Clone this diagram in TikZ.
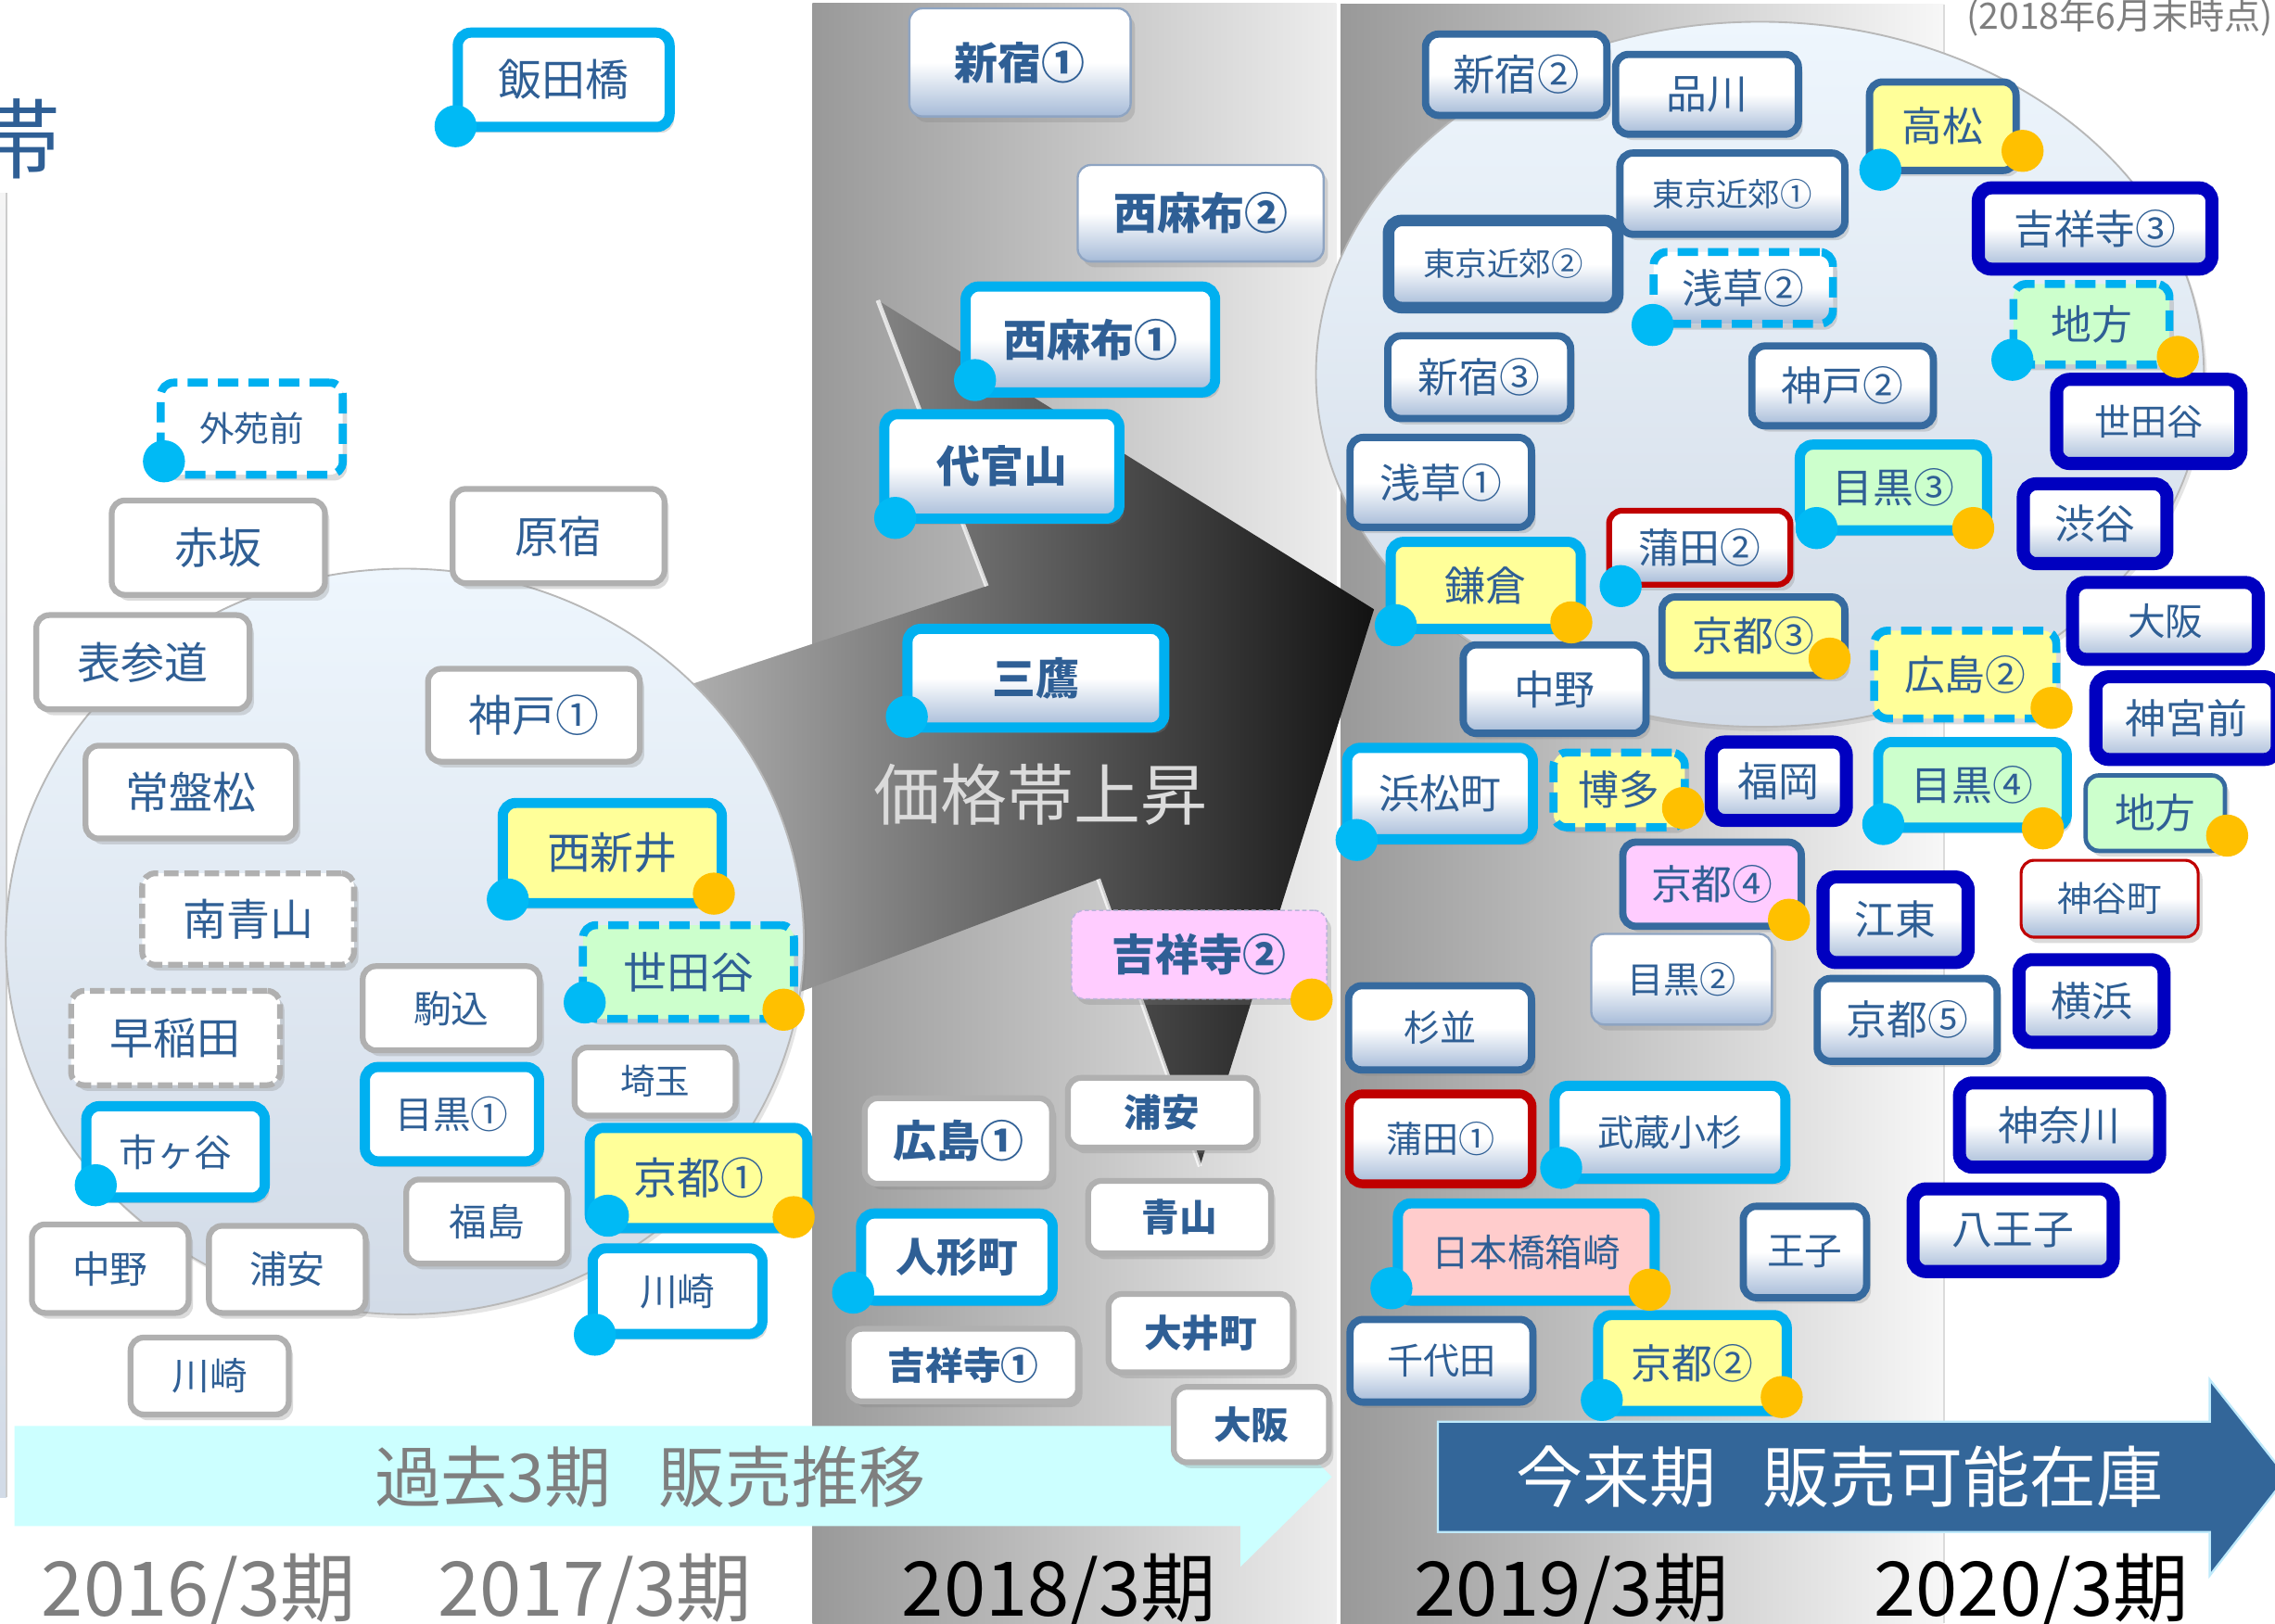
\documentclass[tikz,border=0pt]{standalone}
\usepackage{fontspec}
\setmainfont{Noto Sans CJK JP}
\usetikzlibrary{shadows}
\definecolor{txt}{HTML}{2F5F95}
\definecolor{cyanB}{HTML}{00B0F0}
\definecolor{cyanD}{HTML}{00BAF5}
\definecolor{orgD}{HTML}{FFC000}
\definecolor{grayB}{HTML}{B0B0B0}
\definecolor{steelB}{HTML}{366A9F}
\definecolor{dblueB}{HTML}{0000C0}
\definecolor{redB}{HTML}{C00000}
\definecolor{thinB}{HTML}{8EA4C2}
\definecolor{yelF}{HTML}{FFFF99}
\definecolor{grnF}{HTML}{CCFFCC}
\definecolor{pnkF}{HTML}{FFCCFF}
\definecolor{salF}{HTML}{FFCCCC}
\definecolor{bevB}{HTML}{A6BBD8}
\definecolor{bandC}{HTML}{CCFFFF}
\definecolor{arrB}{HTML}{336699}
\definecolor{yrG}{HTML}{7F7F7F}
\definecolor{cirT}{HTML}{EEF6FD}
\definecolor{cirB}{HTML}{D2DBE7}
\newcommand\fsz[1]{\fontsize{#1pt}{#1pt}\selectfont}
\newcommand\stn[8]{\node[box,#2,font=\fsz{#7},minimum width=#5pt-#3pt-\pgflinewidth,minimum height=#6pt-#4pt-\pgflinewidth] (#1) at ({(#3+#5)/2},{(#4+#6)/2}) {#8};}
\newcommand\cdt[2]{\fill[cyanD] (#1,#2) circle (14.5pt);}
\newcommand\odt[2]{\fill[orgD] (#1,#2) circle (14.5pt);}
\begin{document}
\begin{tikzpicture}[x=1pt,y=-1pt,
  box/.style={rounded corners=9pt, inner sep=0pt, text=txt, align=center,
    drop shadow={opacity=0.28, shadow xshift=3pt, shadow yshift=-4pt}},
  yel/.style={fill=yelF}, grn/.style={fill=grnF}, pnk/.style={fill=pnkF}, sal/.style={fill=salF},
  bev/.style={top color=white, bottom color=bevB, middle color=white},
  grayb/.style={draw=grayB, line width=4pt, fill=white},
  graydash/.style={draw=grayB, line width=4pt, dash pattern=on 10pt off 4pt, fill=white},
  cyanb/.style={draw=cyanB, line width=7pt, fill=white},
  cyandash/.style={draw=cyanB, line width=5.5pt, dash pattern=on 14pt off 7pt, fill=white},
  thinb/.style={draw=thinB, line width=1.5pt, fill=white},
  pinkthin/.style={draw=thinB!60!pnkF, line width=1pt, dash pattern=on 3pt off 2pt, fill=pnkF},
  steel/.style={draw=steelB, line width=5pt, fill=white},
  steelthick/.style={draw=steelB, line width=8pt, fill=white},
  steelthin/.style={draw=steelB, line width=3pt, fill=white},
  dblue/.style={draw=dblueB, line width=9pt, fill=white},
  red/.style={draw=redB, line width=4pt, fill=white},
  redthick/.style={draw=redB, line width=6pt, fill=white},
  redthin/.style={draw=redB, line width=2pt, fill=white}]
\useasboundingbox (0,0) rectangle (1568,1119);
\clip (0,0) rectangle (1568,1119);
\fill[white] (0,0) rectangle (1568,1119);
% columns
\shade[left color=black!40, right color=black!7] (560,2) rectangle (921,1119);
\shade[left color=black!40, right color=black!3] (924,3) rectangle (1340,1119);
\draw[black!14, line width=1pt] (1340,3) -- (1340,1119);
% left panel edge
\shade[top color=black!4, bottom color=cirB] (0,133) rectangle (4.5,1032);
\draw[black!20, line width=0.8pt] (4.5,133) -- (4.5,1032);
\node[font=\fsz{60}, text=txt] (obi) at (12,96) {帯};
% big 3D arrow
\shade[left color=black!22, right color=black!93] (400,497) -- (680,404) -- (605,207) -- (947,420) -- (827,804) -- (757,606) -- (400,741) -- cycle;
\draw[white, opacity=0.75, line width=3pt] (605,207) -- (680,404);
\draw[white, opacity=0.75, line width=3pt] (827,804) -- (757,606);
\node[font=\fsz{46}, text=black!14] (rise) at (717,548) {価格帯上昇};
% circles
\path[top color=cirT, bottom color=cirB, draw=black!28, line width=1.2pt,
  drop shadow={opacity=0.2, shadow xshift=2pt, shadow yshift=-3pt}] (279,649) ellipse (275pt and 257pt);
\path[top color=cirT, bottom color=cirB, draw=black!28, line width=1.2pt,
  drop shadow={opacity=0.2, shadow xshift=2pt, shadow yshift=-3pt}] (1213,258) ellipse (306pt and 243pt);
% bottom bands
\fill[bandC] (10,983) -- (855,983) -- (855,955) -- (918,1018) -- (855,1080) -- (855,1052) -- (10,1052) -- cycle;
\node[font=\fsz{46}, text=yrG] (past) at (448,1018) {過去3期\hspace{0.7em}販売推移};
\filldraw[fill=arrB, draw=cyan!25, line width=1.5pt] (991,980) -- (1523,980) -- (1523,951) -- (1576,1018) -- (1523,1086) -- (1523,1056) -- (991,1056) -- cycle;
\node[font=\fsz{46}, text=white] (now) at (1268,1018) {今来期\hspace{0.7em}販売可能在庫};
% years
\node[font=\fsz{52}, text=yrG, anchor=base] (y16) at (137,1114) {2016/3期};
\node[font=\fsz{52}, text=yrG, anchor=base] (y17) at (410,1114) {2017/3期};
\node[font=\fsz{52}, text=black, anchor=base] (y18) at (730,1114) {2018/3期};
\node[font=\fsz{52}, text=black, anchor=base] (y19) at (1083,1114) {2019/3期};
\node[font=\fsz{52}, text=black, anchor=base] (y20) at (1400,1114) {2020/3期};
\node[font=\fsz{25}, text=yrG, anchor=base east, inner sep=0pt] (asof) at (1567,20) {(2018年6月末時点)};
% left stations
\stn{ii}{cyanb}{312}{19}{465}{91}{30}{飯田橋}
\stn{gaien}{cyandash}{108}{261}{239}{330}{24}{外苑前}
\stn{akasaka}{grayb}{75}{343}{226}{412}{30}{赤坂}
\stn{harajuku}{grayb}{310}{335}{460}{404}{30}{原宿}
\stn{omote}{grayb}{23}{422}{174}{491}{30}{表参道}
\stn{kobe1}{grayb}{293}{459}{443}{527}{30}{神戸①}
\stn{tokiwa}{grayb}{57}{512}{206}{580}{30}{常盤松}
\stn{nishiarai}{cyanb,yel}{343}{550}{501}{626}{30}{西新井}
\stn{minami}{graydash}{96}{600}{246}{667}{30}{南青山}
\stn{setaL}{cyandash,grn}{399}{635}{550}{705}{30}{世田谷}
\stn{koma}{grayb}{248}{664}{374}{726}{26}{駒込}
\stn{waseda}{graydash}{47}{681}{195}{750}{30}{早稲田}
\stn{saitama}{grayb}{394}{720}{509}{771}{24}{埼玉}
\stn{meguro1}{cyanb}{248}{732}{375}{804}{26}{目黒①}
\stn{ichi}{cyanb}{56}{759}{186}{829}{26}{市ヶ谷}
\stn{kyoto1}{cyanb,yel}{403}{774}{560}{850}{30}{京都①}
\stn{fuku}{grayb}{278}{811}{393}{873}{26}{福島}
\stn{nakanoL}{grayb}{20}{842}{132}{907}{26}{中野}
\stn{urayasuL}{grayb}{142}{843}{254}{907}{26}{浦安}
\stn{kawaR}{cyanb}{405}{857}{529}{923}{26}{川崎}
\stn{kawaL}{grayb}{88}{920}{201}{977}{26}{川崎}
% 2018 column
\stn{shin1}{thinb,bev}{626}{5}{780}{81}{30}{\bfseries 新宿①}
\stn{nishi2}{thinb,bev}{742}{113}{913}{181}{30}{\bfseries 西麻布②}
\stn{nishi1}{cyanb,bev}{662}{194}{841}{274}{30}{\bfseries 西麻布①}
\stn{daikan}{cyanb,bev}{606}{282}{775}{361}{30}{\bfseries 代官山}
\stn{mitaka}{cyanb,bev}{622}{430}{806}{505}{30}{\bfseries 三鷹}
\stn{kichi2}{pinkthin}{738}{627}{915}{689}{30}{\bfseries 吉祥寺②}
\stn{urayasuM}{grayb}{734}{741}{868}{793}{26}{\bfseries 浦安}
\stn{hiro1}{grayb}{594}{755}{727}{818}{30}{\bfseries 広島①}
\stn{aoyama}{grayb}{748}{812}{878}{866}{26}{\bfseries 青山}
\stn{ningyo}{cyanb}{590}{833}{729}{900}{28}{\bfseries 人形町}
\stn{oimachi}{grayb}{762}{890}{893}{948}{26}{\bfseries 大井町}
\stn{kichi1}{grayb}{583}{914}{745}{968}{26}{\bfseries 吉祥寺①}
\stn{osakaM}{grayb}{807}{954}{918}{1010}{26}{\bfseries 大阪}
% right stations
\stn{shin2}{steel,bev}{980}{21}{1110}{82}{29}{新宿②}
\stn{shina}{steel,bev}{1111}{35}{1242}{95}{28}{品川}
\stn{takamatsu}{steel,yel}{1286}{54}{1392}{120}{28}{高松}
\stn{kinko1}{steel,bev}{1114}{103}{1274}{164}{22}{東京近郊①}
\stn{kichi3}{dblue,bev}{1359}{125}{1529}{190}{28}{吉祥寺③}
\stn{kinko2}{steelthick,bev}{953}{148}{1119}{216}{22}{東京近郊②}
\stn{asa2}{cyandash,bev}{1137}{171}{1266}{226}{28}{浅草②}
\stn{chihou1}{cyandash,grn}{1385}{193}{1498}{254}{28}{地方}
\stn{shin3}{steel,bev}{954}{229}{1085}{291}{28}{新宿③}
\stn{kobe2}{steel,bev}{1205}{236}{1335}{296}{28}{神戸②}
\stn{setaR}{dblue,bev}{1413}{257}{1549}{324}{25}{世田谷}
\stn{asa1}{steel,bev}{928}{299}{1058}{366}{28}{浅草①}
\stn{meguro3}{cyanb,grn}{1237}{303}{1373}{369}{28}{目黒③}
\stn{shibuya}{dblue,bev}{1390}{329}{1498}{393}{28}{渋谷}
\stn{kamata2}{red,bev}{1107}{350}{1236}{405}{28}{蒲田②}
\stn{kamakura}{cyanb,yel}{955}{370}{1093}{437}{28}{鎌倉}
\stn{osakaR}{dblue,bev}{1424}{397}{1561}{459}{26}{大阪}
\stn{kyoto3}{steel,yel}{1143}{409}{1274}{468}{28}{京都③}
\stn{hiro2}{cyandash,yel}{1289}{432}{1420}{498}{28}{広島②}
\stn{nakanoR}{steel,bev}{1006}{442}{1137}{508}{28}{中野}
\stn{jingu}{dblue,bev}{1440}{462}{1574}{528}{28}{神宮前}
\stn{hamama}{cyanb,bev}{925}{512}{1060}{582}{28}{浜松町}
\stn{hakata}{cyandash,yel}{1068}{516}{1164}{573}{28}{博多}
\stn{fukuoka}{dblue,bev}{1175}{507}{1277}{570}{28}{福岡}
\stn{meguro4}{cyanb,grn}{1291}{508}{1428}{574}{28}{目黒④}
\stn{chihou2}{steelthin,grn}{1436}{533}{1535}{588}{28}{地方}
\stn{kyoto4}{steel,pnk}{1116}{578}{1244}{641}{28}{京都④}
\stn{koto}{dblue,bev}{1252}{600}{1361}{668}{28}{江東}
\stn{kamiya}{redthin,bev}{1392}{592}{1516}{647}{24}{神谷町}
\stn{meguro2}{thinb,bev}{1096}{643}{1222}{707}{25}{目黒②}
\stn{sugi}{steel,bev}{927}{677}{1058}{740}{25}{杉並}
\stn{kyoto5}{steel,bev}{1250}{672}{1379}{734}{28}{京都⑤}
\stn{yoko}{dblue,bev}{1387}{657}{1496}{723}{28}{横浜}
\stn{kamata1}{redthick,bev}{927}{751}{1059}{819}{25}{蒲田①}
\stn{musashi}{cyanb,bev}{1068}{745}{1234}{816}{25}{武蔵小杉}
\stn{kana}{dblue,bev}{1346}{742}{1493}{809}{28}{神奈川}
\stn{nihon}{cyanb,sal}{960}{826}{1144}{900}{26}{日本橋箱崎}
\stn{oji}{steel,bev}{1199}{829}{1289}{897}{26}{王子}
\stn{hachi}{dblue,bev}{1314}{815}{1461}{881}{28}{八王子}
\stn{chiyoda}{steel,bev}{928}{907}{1059}{969}{25}{千代田}
\stn{kyoto2}{cyanb,yel}{1098}{903}{1235}{976}{28}{京都②}
% cyan dots
\cdt{314}{87}\cdt{113}{318}\cdt{350}{620}\cdt{403}{691}\cdt{66}{817}\cdt{419}{838}\cdt{410}{920}
\cdt{672}{262}\cdt{617}{357}\cdt{625}{494}\cdt{588}{891}
\cdt{1296}{117}\cdt{1139}{224}\cdt{1387}{248}\cdt{1252}{364}\cdt{1117}{404}\cdt{962}{431}
\cdt{935}{579}\cdt{1298}{568}\cdt{1076}{805}\cdt{959}{888}\cdt{1104}{965}
% orange dots
\odt{492}{616}\odt{540}{696}\odt{547}{839}\odt{904}{689}
\odt{1394}{104}\odt{1501}{246}\odt{1360}{364}\odt{1083}{429}\odt{1261}{454}\odt{1414}{488}
\odt{1160}{557}\odt{1408}{571}\odt{1535}{576}\odt{1233}{634}\odt{1137}{889}\odt{1228}{963}
\end{tikzpicture}
\end{document}
